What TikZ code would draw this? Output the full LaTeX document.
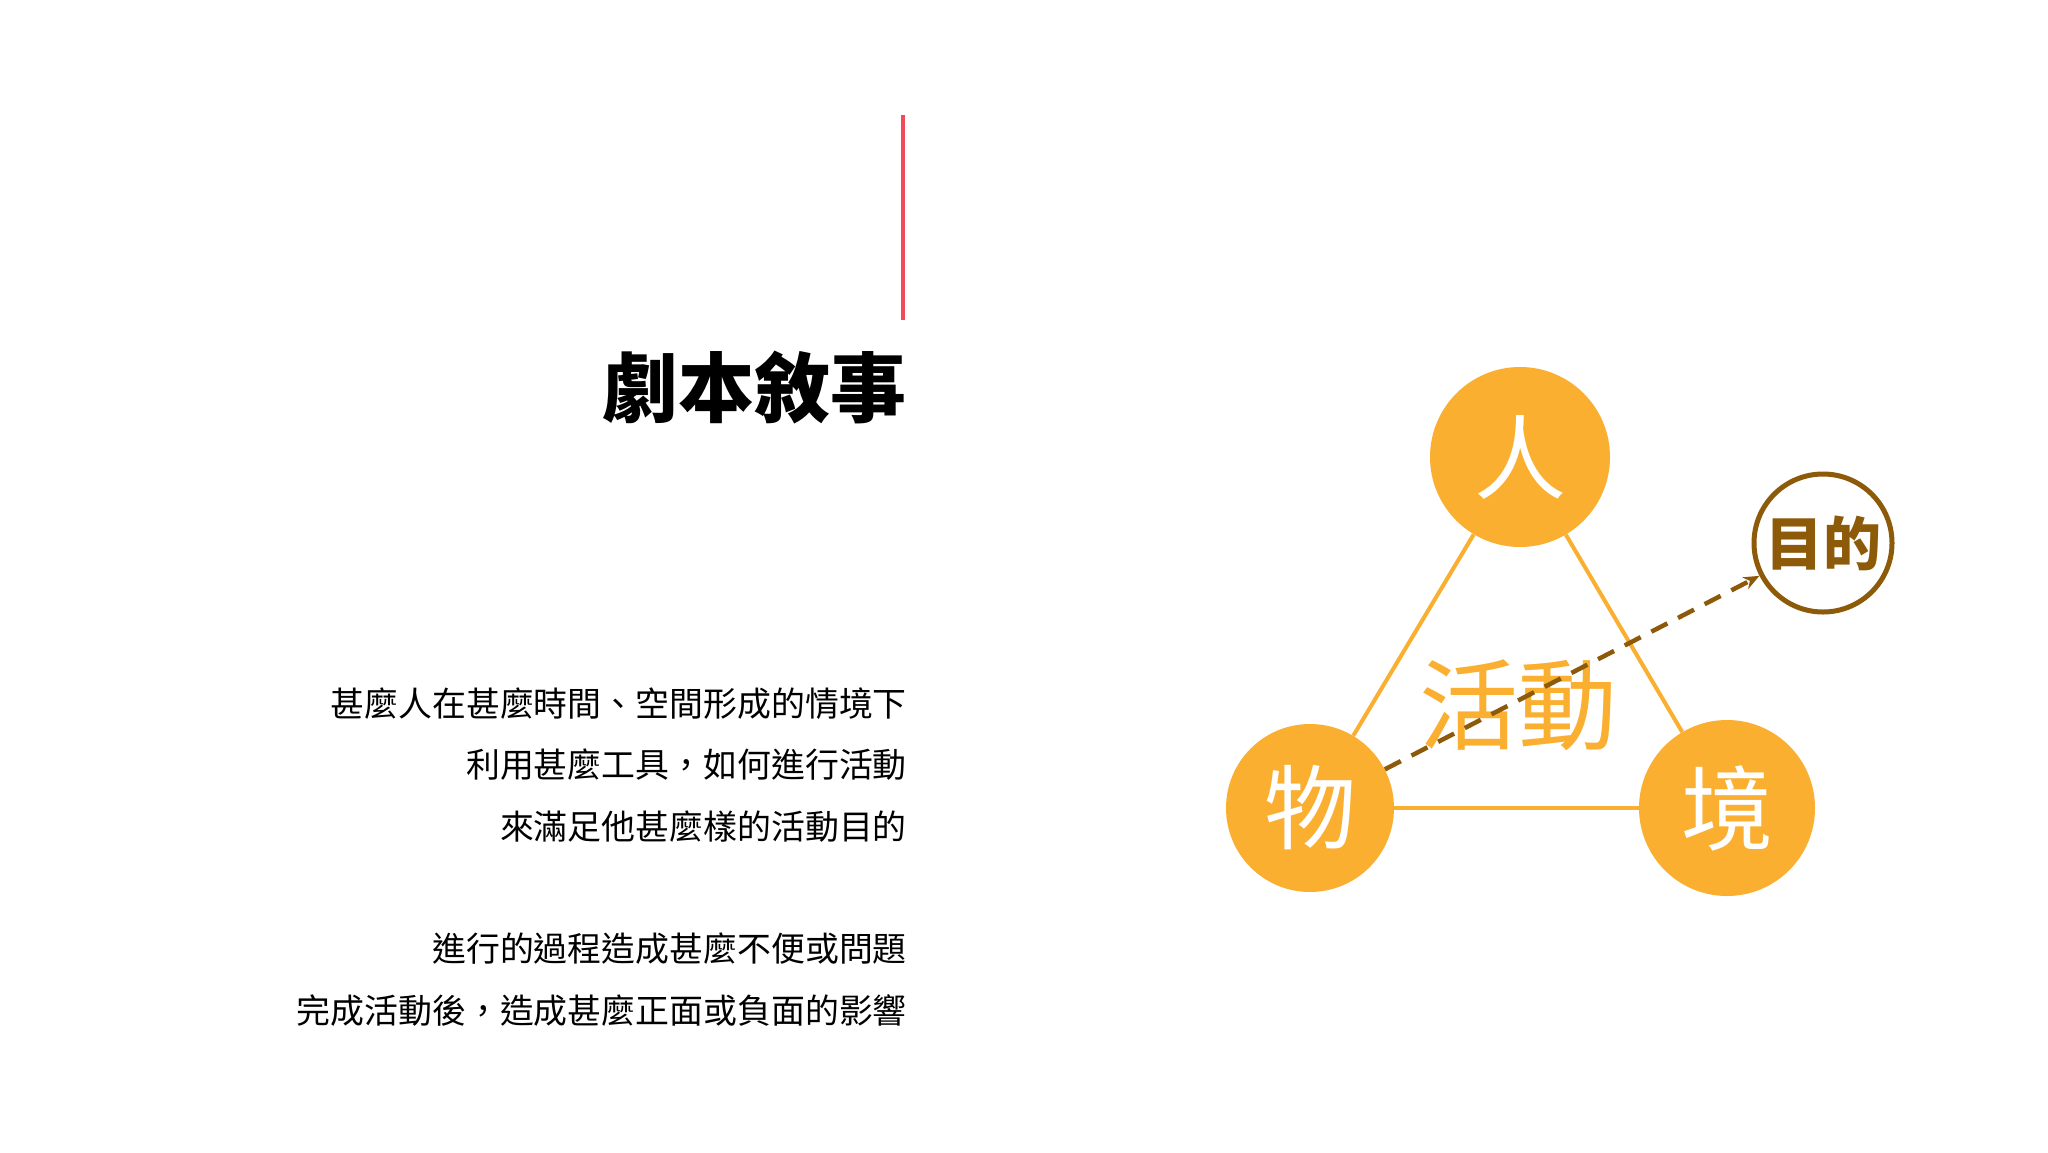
\documentclass[tikz,border=0pt]{standalone}
\usepackage{fontspec}
\newfontfamily\cjk{Noto Sans CJK TC}
\usetikzlibrary{arrows.meta}
\definecolor{orng}{HTML}{FAAF30}
\definecolor{brwn}{HTML}{8C5A08}
\definecolor{redl}{HTML}{F24A5A}
\tikzset{
  body/.style={anchor=east, inner sep=0pt, font=\cjk\fontsize{33.9}{40}\selectfont, text=black},
  ball/.style={circle, fill=orng, inner sep=0pt, text=white, font=\cjk\fontsize{92}{100}\selectfont},
  tri/.style={draw=orng, line width=4pt},
}
\begin{document}
\begin{tikzpicture}[x=1pt,y=-1pt]
\useasboundingbox[fill=white] (0,0) rectangle (2048,1152);
% red bar
\coordinate (rt) at (903,115);
\coordinate (rb) at (903,320);
\draw[redl, line width=4pt] (rt) -- (rb);
% title
\node[anchor=east, inner sep=0pt, font=\cjk\bfseries\fontsize{76}{90}\selectfont] (title) at (907,388) {劇本敘事};
% body text
\node[body] (l1) at (907,704) {甚麼人在甚麼時間、空間形成的情境下};
\node[body] (l2) at (907,765) {利用甚麼工具，如何進行活動};
\node[body] (l3) at (907,827) {來滿足他甚麼樣的活動目的};
\node[body] (l4) at (907,949) {進行的過程造成甚麼不便或問題};
\node[body] (l5) at (907,1011) {完成活動後，造成甚麼正面或負面的影響};
% diagram
\node[ball, minimum size=180pt] (ren) at (1520,457) {人};
\node[ball, minimum size=168pt] (wu) at (1310,808) {物};
\node[ball, minimum size=176pt] (jing) at (1727,808) {境};
\node[circle, draw=brwn, line width=5pt, minimum size=138pt, inner sep=0pt, text=brwn, font=\cjk\bfseries\fontsize{58}{64}\selectfont] (md) at (1823,543) {目的};
\draw[tri] (ren) -- (wu);
\draw[tri] (ren) -- (jing);
\draw[tri] (wu) -- (jing);
\node[text=orng, inner sep=0pt, font=\cjk\fontsize{99}{110}\selectfont] (hd) at (1518,705) {活動};
\draw[brwn, line width=4.5pt, dash pattern=on 18pt off 12pt, -{Stealth[length=16pt,width=13pt]}] (wu) -- (md);
\end{tikzpicture}
\end{document}
